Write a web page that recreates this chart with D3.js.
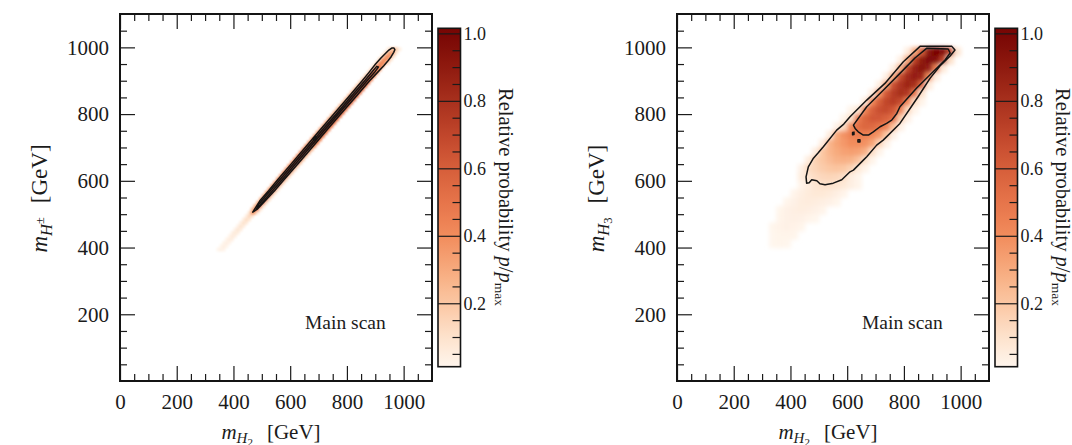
<!DOCTYPE html>
<html>
<head>
<meta charset="utf-8">
<script src="https://cdn.jsdelivr.net/npm/d3@7"></script>
<style>
  html, body { margin: 0; padding: 0; background: #ffffff; }
  svg text { font-family: "Liberation Serif", "DejaVu Serif", serif; fill: #1b1b1b; }
</style>
</head>
<body>
<svg id="fig" width="1072" height="445"></svg>
<script>
// ---------------- axis ticks ----------------
const massTicksX = [0, 200, 400, 600, 800, 1000];
const massTicksY = [200, 400, 600, 800, 1000];
const massMinorTicks = [50, 100, 150, 250, 300, 350, 450, 500, 550, 650, 700, 750, 850, 900, 950, 1050];
const massDomain = [0, 1100];

// ---------------- colour bar ----------------
const probTicks = [0.2, 0.4, 0.6, 0.8, 1.0];
const probMinorTicks = [0.05, 0.1, 0.15, 0.25, 0.3, 0.35, 0.45, 0.5, 0.55, 0.65, 0.7, 0.75, 0.85, 0.9, 0.95];
const probDomain = [0.012, 1.015];
const colourStops = [0.0, 0.1, 0.2, 0.3, 0.4, 0.5, 0.6, 0.7, 0.8, 0.9, 1.0];
const colourValues = ["#fff8f1", "#fde2cc", "#fbc7a3", "#f7aa7d", "#f28c5c", "#e6744a", "#d65e3a", "#c1462b", "#a8301d", "#8f1a0f", "#780604"];

// ---------------- left panel: m_H2 vs m_H± ----------------
// rows: [lower m_H± edge of the row, lower m_H2 edge of the first cell, relative probabilities]
const leftCell = 10;
const leftRows = [
  [390, 340, [0.01, 0.03, 0.02]],
  [400, 350, [0.01, 0.04, 0.02]],
  [410, 360, [0.02, 0.04, 0.02]],
  [420, 370, [0.02, 0.05, 0.03]],
  [430, 380, [0.02, 0.06, 0.03]],
  [440, 390, [0.03, 0.07, 0.04]],
  [450, 400, [0.03, 0.08, 0.05]],
  [460, 410, [0.03, 0.09, 0.05]],
  [470, 420, [0.04, 0.10, 0.06]],
  [480, 430, [0.05, 0.12, 0.07]],
  [490, 440, [0.05, 0.14, 0.08]],
  [500, 450, [0.08, 0.36, 0.30, 0.04]],
  [510, 460, [0.20, 0.50, 0.44, 0.06]],
  [520, 470, [0.24, 0.54, 0.48, 0.07]],
  [530, 480, [0.26, 0.58, 0.52, 0.08]],
  [540, 490, [0.28, 0.62, 0.56, 0.09]],
  [550, 500, [0.30, 0.64, 0.58, 0.10]],
  [560, 510, [0.32, 0.66, 0.60, 0.10]],
  [570, 520, [0.33, 0.68, 0.62, 0.11]],
  [580, 530, [0.34, 0.70, 0.64, 0.12]],
  [590, 540, [0.35, 0.72, 0.66, 0.12]],
  [600, 550, [0.36, 0.74, 0.68, 0.13]],
  [610, 560, [0.37, 0.75, 0.70, 0.14]],
  [620, 570, [0.38, 0.76, 0.72, 0.15]],
  [630, 580, [0.38, 0.77, 0.74, 0.16]],
  [640, 590, [0.39, 0.78, 0.76, 0.17]],
  [650, 600, [0.40, 0.80, 0.78, 0.18]],
  [660, 610, [0.41, 0.82, 0.80, 0.19]],
  [670, 620, [0.42, 0.84, 0.82, 0.20]],
  [680, 630, [0.42, 0.86, 0.84, 0.22]],
  [690, 640, [0.42, 0.88, 0.86, 0.26]],
  [700, 650, [0.40, 0.90, 0.89, 0.36]],
  [710, 660, [0.38, 0.92, 0.93, 0.40]],
  [720, 670, [0.36, 0.93, 0.95, 0.42]],
  [730, 680, [0.34, 0.94, 0.97, 0.44]],
  [740, 690, [0.34, 0.95, 0.99, 0.45]],
  [750, 700, [0.33, 0.96, 1.00, 0.46]],
  [760, 710, [0.33, 0.96, 1.00, 0.47]],
  [770, 720, [0.32, 0.95, 0.99, 0.47]],
  [780, 730, [0.31, 0.94, 0.98, 0.48]],
  [790, 740, [0.30, 0.92, 0.97, 0.49]],
  [800, 750, [0.28, 0.90, 0.96, 0.50]],
  [810, 760, [0.27, 0.88, 0.94, 0.50]],
  [820, 770, [0.26, 0.86, 0.93, 0.51]],
  [830, 780, [0.25, 0.84, 0.91, 0.51]],
  [840, 790, [0.24, 0.82, 0.89, 0.52]],
  [850, 800, [0.23, 0.80, 0.87, 0.52]],
  [860, 810, [0.22, 0.78, 0.85, 0.52]],
  [870, 820, [0.21, 0.76, 0.83, 0.51]],
  [880, 830, [0.20, 0.74, 0.81, 0.50]],
  [890, 840, [0.19, 0.72, 0.79, 0.49]],
  [900, 850, [0.18, 0.68, 0.76, 0.46]],
  [910, 860, [0.16, 0.62, 0.71, 0.42]],
  [920, 870, [0.14, 0.55, 0.65, 0.38]],
  [930, 880, [0.13, 0.48, 0.58, 0.34]],
  [940, 890, [0.12, 0.42, 0.52, 0.32]],
  [950, 900, [0.14, 0.38, 0.44, 0.33, 0.08]],
  [960, 910, [0.14, 0.35, 0.41, 0.33, 0.08]],
  [970, 920, [0.12, 0.33, 0.39, 0.33, 0.08]],
  [980, 930, [0.10, 0.29, 0.35, 0.29, 0.06]],
  [990, 940, [0.06, 0.18, 0.24, 0.16, 0.04]]
];
// credible-region outlines [m_H2, m_H±]
const leftOuter = [
  [468, 506], [493, 540], [524, 570], [553, 600], [603, 650], [653, 700], [703, 750],
  [754, 800], [804, 850], [854, 900], [878, 925], [901, 950], [920, 968], [934, 980],
  [948, 992], [958, 998], [966, 998], [969, 993], [965, 985], [956, 972], [945, 960],
  [930, 945], [908, 925], [880, 900], [829, 850], [778, 800], [727, 750], [677, 700],
  [626, 650], [575, 600], [545, 570], [512, 540], [484, 515]
];
const leftInner = [
  [481, 516], [489, 530], [519, 560], [568, 608], [618, 658], [664, 703], [713, 752],
  [764, 802], [814, 852], [865, 902], [892, 930], [905, 943], [911, 941], [900, 928],
  [871, 900], [820, 850], [770, 800], [719, 750], [669, 700], [621, 653], [573, 605],
  [524, 557], [495, 528]
];
const leftIslands = [
  [[684, 722], [692, 727], [690, 733], [682, 728]]
];

// ---------------- right panel: m_H2 vs m_H3 ----------------
const rightCell = 25;
const rightRows = [
  [975, 800, [0.05, 0.30, 0.60, 0.92, 1.00, 0.95, 0.70, 0.08]],
  [950, 775, [0.04, 0.30, 0.72, 0.90, 0.97, 0.95, 0.72, 0.10]],
  [925, 750, [0.04, 0.28, 0.70, 0.86, 0.93, 0.88, 0.45, 0.06]],
  [900, 725, [0.04, 0.30, 0.68, 0.82, 0.88, 0.84, 0.40, 0.05]],
  [875, 700, [0.04, 0.32, 0.66, 0.78, 0.84, 0.80, 0.55, 0.06]],
  [850, 675, [0.05, 0.36, 0.62, 0.74, 0.80, 0.76, 0.50, 0.10]],
  [825, 650, [0.06, 0.40, 0.60, 0.70, 0.74, 0.68, 0.42, 0.12, 0.02]],
  [800, 600, [0.02, 0.08, 0.42, 0.58, 0.66, 0.68, 0.62, 0.44, 0.14, 0.02]],
  [775, 575, [0.02, 0.10, 0.46, 0.56, 0.62, 0.62, 0.58, 0.52, 0.18, 0.03]],
  [750, 550, [0.03, 0.12, 0.40, 0.52, 0.56, 0.55, 0.50, 0.44, 0.22, 0.03]],
  [725, 525, [0.05, 0.30, 0.38, 0.44, 0.46, 0.45, 0.42, 0.36, 0.20, 0.03]],
  [700, 500, [0.05, 0.26, 0.32, 0.36, 0.40, 0.40, 0.38, 0.32, 0.16, 0.03]],
  [675, 475, [0.05, 0.20, 0.26, 0.30, 0.33, 0.34, 0.33, 0.28, 0.12, 0.02]],
  [650, 450, [0.05, 0.16, 0.20, 0.24, 0.27, 0.28, 0.27, 0.22, 0.10, 0.02]],
  [625, 425, [0.03, 0.12, 0.15, 0.18, 0.20, 0.21, 0.20, 0.16, 0.07, 0.02]],
  [600, 425, [0.05, 0.09, 0.12, 0.14, 0.15, 0.14, 0.11, 0.05, 0.02]],
  [575, 425, [0.02, 0.05, 0.08, 0.10, 0.10, 0.09, 0.07, 0.04, 0.02]],
  [550, 400, [0.02, 0.04, 0.06, 0.07, 0.07, 0.06, 0.04, 0.02]],
  [525, 375, [0.015, 0.03, 0.05, 0.055, 0.05, 0.04, 0.03, 0.015]],
  [500, 350, [0.015, 0.03, 0.04, 0.045, 0.04, 0.03, 0.02]],
  [475, 350, [0.02, 0.03, 0.035, 0.03, 0.02, 0.01]],
  [450, 325, [0.015, 0.025, 0.03, 0.025, 0.015]],
  [425, 325, [0.01, 0.02, 0.02, 0.015]],
  [400, 325, [0.01, 0.015, 0.01]]
];
const rightOuter = [
  [857, 1003], [913, 1003], [969, 1003], [980, 992], [963, 974], [927, 944], [892, 907],
  [850, 852], [786, 772], [727, 722], [704, 707], [669, 672], [657, 662], [622, 632],
  [610, 627], [581, 603], [551, 593], [522, 588], [504, 591], [493, 600], [475, 603],
  [466, 594], [457, 593], [455, 612], [463, 642], [481, 668], [498, 684], [516, 702],
  [563, 752], [588, 770], [610, 792], [669, 842], [733, 892], [798, 957]
];
const rightInner = [
  [880, 997], [956, 995], [963, 983], [945, 962], [845, 878], [786, 822], [775, 802],
  [757, 782], [739, 772], [716, 762], [692, 747], [675, 737], [657, 737], [639, 747],
  [628, 757], [622, 767], [669, 822], [728, 872], [786, 922], [839, 968]
];
const rightIslands = [
  [[619, 745], [624, 746], [624, 739], [619, 738]],
  [[638, 723], [645, 723], [645, 716], [638, 716]]
];

// ---------------- drawing ----------------
const svg = d3.select("#fig");
const defs = svg.append("defs");

const colour = d3.scaleLinear().domain(colourStops).range(colourValues).clamp(true);

function drawPanel(cfg) {
  const w = 312, h = 367;
  const g = svg.append("g").attr("transform", `translate(${cfg.left},14)`);
  const x = d3.scaleLinear().domain(massDomain).range([0, w]);
  const y = d3.scaleLinear().domain(massDomain).range([h, 0]);

  defs.append("clipPath").attr("id", cfg.id + "-clip")
    .append("rect").attr("width", w).attr("height", h);
  defs.append("filter").attr("id", cfg.id + "-soft")
    .attr("x", "-5%").attr("y", "-5%").attr("width", "110%").attr("height", "110%")
    .append("feGaussianBlur").attr("stdDeviation", cfg.blur);

  // density cells
  const cells = [];
  cfg.rows.forEach(([yLow, x0, vals]) => {
    vals.forEach((v, i) => cells.push({ x0: x0 + i * cfg.cell, y0: yLow, v }));
  });
  const cw = x(cfg.cell) - x(0), ch = y(0) - y(cfg.cell);
  g.append("g").attr("clip-path", `url(#${cfg.id}-clip)`)
    .append("g").attr("filter", `url(#${cfg.id}-soft)`)
    .selectAll("rect").data(cells).join("rect")
    .attr("x", d => x(d.x0))
    .attr("y", d => y(d.y0 + cfg.cell))
    .attr("width", cw + 0.6)
    .attr("height", ch + 0.6)
    .attr("fill", d => colour(d.v));

  // credible-region contours
  const line = d3.line().x(d => x(d[0])).y(d => y(d[1])).curve(d3.curveLinearClosed);
  const cg = g.append("g").attr("clip-path", `url(#${cfg.id}-clip)`)
    .attr("fill", "none").attr("stroke", "#141414").attr("stroke-width", cfg.lineWidth)
    .attr("stroke-linejoin", "round");
  [cfg.outer, cfg.inner, ...cfg.islands].forEach(poly => cg.append("path").attr("d", line(poly)));

  // axes with inward ticks on all four sides
  const styleAxis = sel => {
    sel.select(".domain").remove();
    sel.attr("font-family", "Liberation Serif, serif").attr("font-size", 21).attr("color", "#1b1b1b");
    sel.selectAll("line").attr("stroke-width", 1.2);
  };
  g.append("g").attr("transform", `translate(0,${h})`)
    .call(d3.axisBottom(x).tickValues(massTicksX).tickSize(-15).tickPadding(13).tickFormat(d3.format("d")))
    .call(styleAxis);
  g.append("g").attr("transform", `translate(0,${h})`)
    .call(d3.axisBottom(x).tickValues(massMinorTicks).tickSize(-7).tickFormat(""))
    .call(styleAxis);
  g.append("g")
    .call(d3.axisTop(x).tickValues(massTicksX).tickSize(-15).tickFormat(""))
    .call(styleAxis);
  g.append("g")
    .call(d3.axisTop(x).tickValues(massMinorTicks).tickSize(-7).tickFormat(""))
    .call(styleAxis);
  g.append("g")
    .call(d3.axisLeft(y).tickValues(massTicksY).tickSize(-15).tickPadding(11).tickFormat(d3.format("d")))
    .call(styleAxis);
  g.append("g")
    .call(d3.axisLeft(y).tickValues(massMinorTicks).tickSize(-7).tickFormat(""))
    .call(styleAxis);
  g.append("g").attr("transform", `translate(${w},0)`)
    .call(d3.axisRight(y).tickValues(massTicksY).tickSize(-15).tickFormat(""))
    .call(styleAxis);
  g.append("g").attr("transform", `translate(${w},0)`)
    .call(d3.axisRight(y).tickValues(massMinorTicks).tickSize(-7).tickFormat(""))
    .call(styleAxis);

  g.append("rect").attr("width", w).attr("height", h)
    .attr("fill", "none").attr("stroke", "#141414").attr("stroke-width", 2);

  // scan tag
  g.append("text").attr("x", 185).attr("y", 315).attr("font-size", 19.5).text("Main scan");

  // x-axis title: m_{H_2} [GeV]
  const xt = g.append("text").attr("x", 151).attr("y", 425).attr("text-anchor", "middle").attr("font-size", 21);
  xt.append("tspan").attr("font-style", "italic").text("m");
  xt.append("tspan").attr("font-style", "italic").attr("font-size", 15).attr("dy", 4).text("H");
  xt.append("tspan").attr("font-size", 11).attr("dy", 2.5).text("2");
  xt.append("tspan").attr("dy", -6.5).attr("dx", 14).text("[GeV]");

  // y-axis title
  const yt = g.append("text").attr("transform", `translate(-73,${h / 2 + 1}) rotate(-90)`)
    .attr("text-anchor", "middle").attr("font-size", 23);
  yt.append("tspan").attr("font-style", "italic").text("m");
  yt.append("tspan").attr("font-style", "italic").attr("font-size", 16.5).attr("dy", 5).text("H");
  if (cfg.ySup) {
    yt.append("tspan").attr("font-size", 12.5).attr("dy", -8).text(cfg.ySup);
    yt.append("tspan").attr("dy", 3).attr("dx", 14).text("[GeV]");
  } else {
    yt.append("tspan").attr("font-size", 12.5).attr("dy", 3).text(cfg.ySub);
    yt.append("tspan").attr("dy", -8).attr("dx", 14).text("[GeV]");
  }

  // colour bar
  const bw = 22.5, bh = 338.4;
  const bar = svg.append("g").attr("transform", `translate(${cfg.left + 318},28.3)`);
  const gradId = cfg.id + "-grad";
  const grad = defs.append("linearGradient").attr("id", gradId)
    .attr("x1", 0).attr("y1", 1).attr("x2", 0).attr("y2", 0);
  d3.range(0, 1.0001, 0.02).forEach(t => {
    const v = probDomain[0] + t * (probDomain[1] - probDomain[0]);
    grad.append("stop").attr("offset", t).attr("stop-color", colour(v));
  });
  bar.append("rect").attr("width", bw).attr("height", bh).attr("fill", `url(#${gradId})`);
  const cy = d3.scaleLinear().domain(probDomain).range([bh, 0]);
  bar.append("g").attr("transform", `translate(${bw},0)`)
    .call(d3.axisRight(cy).tickValues(probMinorTicks).tickSize(-8).tickFormat(""))
    .call(styleAxis);
  bar.append("g").attr("transform", `translate(${bw},0)`)
    .call(d3.axisRight(cy).tickValues(probTicks).tickSize(-bw).tickPadding(3).tickFormat(d3.format(".1f")))
    .call(styleAxis)
    .attr("font-size", 18);
  bar.append("rect").attr("width", bw).attr("height", bh)
    .attr("fill", "none").attr("stroke", "#141414").attr("stroke-width", 1.6);

  const lab = svg.append("text")
    .attr("transform", `translate(${cfg.left + 379},197) rotate(90)`)
    .attr("text-anchor", "middle").attr("font-size", 20.5);
  lab.append("tspan").text("Relative probability ");
  lab.append("tspan").attr("font-style", "italic").text("p");
  lab.append("tspan").text("/");
  lab.append("tspan").attr("font-style", "italic").text("p");
  lab.append("tspan").attr("font-size", 13.5).attr("dy", 4).text("max");
}

drawPanel({ id: "hpm", left: 120, rows: leftRows, cell: leftCell, outer: leftOuter, inner: leftInner,
  islands: leftIslands, blur: 0.8, lineWidth: 1.5, ySup: "±" });
drawPanel({ id: "h3", left: 677, rows: rightRows, cell: rightCell, outer: rightOuter, inner: rightInner,
  islands: rightIslands, blur: 2.2, lineWidth: 1.5, ySub: "3" });
</script>
</body>
</html>
